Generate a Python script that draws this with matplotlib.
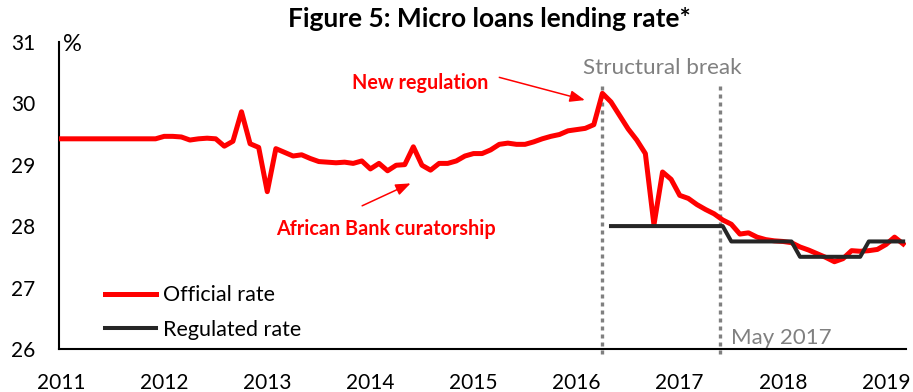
import numpy as np
import matplotlib.pyplot as plt

plt.rcParams["font.family"] = ["Lato", "DejaVu Sans"]

# Monthly micro loans lending rate, Jan 2011 - Mar 2019 (%)
official = [
    29.42, 29.42, 29.42, 29.42, 29.42, 29.42, 29.42, 29.42, 29.42, 29.42, 29.42, 29.42,
    29.46, 29.46, 29.45, 29.40, 29.42, 29.43, 29.42, 29.30, 29.38, 29.86, 29.34, 29.28,
    28.56, 29.26, 29.20, 29.14, 29.16, 29.10, 29.05, 29.04, 29.03, 29.04, 29.02, 29.06,
    28.93, 29.02, 28.90, 28.99, 29.00, 29.29, 28.99, 28.91, 29.02, 29.02, 29.06, 29.14,
    29.18, 29.18, 29.24, 29.33, 29.35, 29.33, 29.33, 29.37, 29.42, 29.46, 29.49, 29.55,
    29.57, 29.59, 29.65, 30.16, 30.02, 29.80, 29.58, 29.40, 29.18, 28.02, 28.88, 28.76,
    28.50, 28.45, 28.35, 28.27, 28.20, 28.10, 28.03, 27.87, 27.89, 27.82, 27.78, 27.76,
    27.75, 27.73, 27.66, 27.61, 27.55, 27.49, 27.42, 27.47, 27.60, 27.59, 27.60, 27.62,
    27.70, 27.82, 27.71,
]
# Regulated rate, May 2016 - Mar 2019 (%)
regulated = [
    28.0, 28.0, 28.0, 28.0, 28.0, 28.0, 28.0, 28.0, 28.0, 28.0, 28.0, 28.0, 28.0, 28.0,
    27.75, 27.75, 27.75, 27.75, 27.75, 27.75, 27.75, 27.75,
    27.5, 27.5, 27.5, 27.5, 27.5, 27.5, 27.5, 27.5,
    27.75, 27.75, 27.75, 27.75, 27.75,
]
reg_start = 64  # months after Jan 2011
breaks = [2016.25, 2017.39]
years = [2011, 2012, 2013, 2014, 2015, 2016, 2017, 2018, 2019]

t_off = 2011 + np.arange(len(official)) / 12
t_reg = 2011 + (reg_start + np.arange(len(regulated))) / 12

fig = plt.figure(figsize=(9.13, 3.92), dpi=100)
ax = fig.add_axes([0.0646, 0.1097, 0.9277, 0.7839])

ax.vlines(breaks, 25.92, 30.29, colors="#808080", linestyles=(0, (1.2, 1.2)),
          lw=2.4, clip_on=False, zorder=1)
ax.plot(t_off, official, color="#ff0000", lw=3.6, label="Official rate", zorder=3)
ax.plot(t_reg, regulated, color="#262626", lw=2.9, label="Regulated rate", zorder=4)

ax.set_xlim(2010.98, 2019.194)
ax.set_ylim(26, 31)
ax.set_xticks(years)
ax.set_xticklabels([str(y) for y in years])
ax.set_yticks([26, 27, 28, 29, 30, 31])
ax.tick_params(axis="both", length=0, labelsize=15)
ax.tick_params(axis="y", pad=17)
ax.tick_params(axis="x", pad=17)
for s in ["top", "right"]:
    ax.spines[s].set_visible(False)
for s in ["left", "bottom"]:
    ax.spines[s].set_linewidth(1.5)
    ax.spines[s].set_color("black")

ax.text(0.005, 1.026, "%", transform=ax.transAxes, fontsize=17, va="top", ha="left")

fig.text(0.5356, 0.952, "Figure 5: Micro loans lending rate*", fontsize=19,
         fontweight="bold", ha="center", va="center")

red = "#ff0000"
ax.text(2014.48, 30.33, "New regulation", color=red, fontsize=14.2,
        fontweight="bold", ha="center", va="center")
ax.annotate("", xy=(2016.08, 30.05), xytext=(2015.25, 30.42),
            arrowprops=dict(arrowstyle="-|>,head_length=0.9,head_width=0.35",
                            color=red, lw=1.1, shrinkA=0, shrinkB=0))
ax.text(2014.15, 27.96, "African Bank curatorship", color=red, fontsize=14.2,
        fontweight="bold", ha="center", va="center")
ax.annotate("", xy=(2014.39, 28.695), xytext=(2013.92, 28.33),
            arrowprops=dict(arrowstyle="-|>,head_length=0.9,head_width=0.35",
                            color=red, lw=1.1, shrinkA=0, shrinkB=0))

ax.text(2016.06, 30.57, "Structural break", color="#808080", fontsize=16.2,
        ha="left", va="center")
ax.text(2017.50, 26.18, "May 2017", color="#808080", fontsize=16,
        ha="left", va="center")

ax.legend(loc="lower left", bbox_to_anchor=(0.054, 0.03), frameon=False,
          fontsize=15.5, handlelength=2.4, handletextpad=0.3, labelspacing=0.68,
          borderpad=0, borderaxespad=0)

fig.savefig("out.png", dpi=100)
